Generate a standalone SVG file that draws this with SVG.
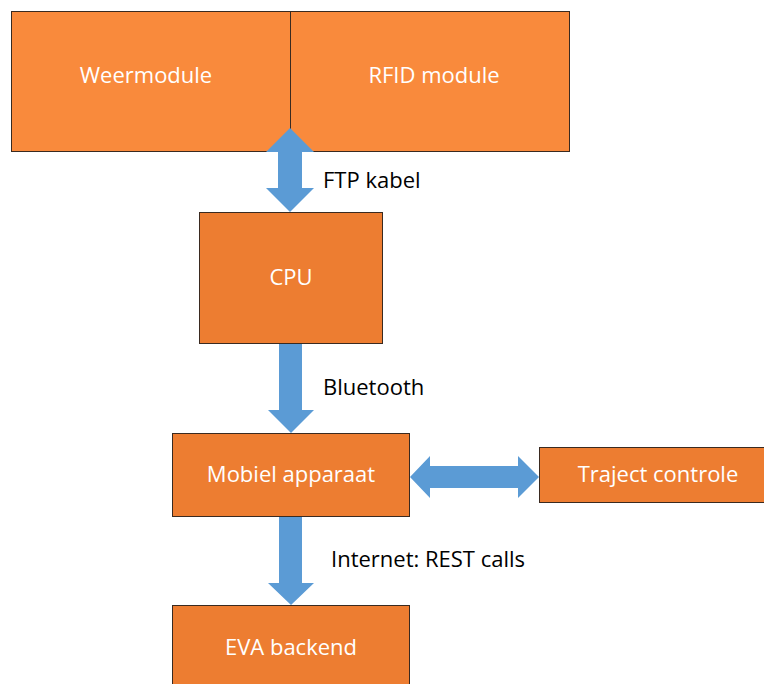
<svg xmlns="http://www.w3.org/2000/svg" width="764" height="684" viewBox="0 0 764 684">
<style>
.top{fill:#F98A3C;stroke:#3a2a20;stroke-width:1}
.box{fill:#ED7D31;stroke:#3a2a20;stroke-width:1}
.arrow{fill:#5B9BD5;stroke:none}
.nt{font-family:"Open Sans","Liberation Sans",sans-serif;font-size:22px;fill:#ffffff;text-anchor:middle;dominant-baseline:central}
.lb{font-family:"Open Sans","Liberation Sans",sans-serif;font-size:22px;fill:#000000}
</style>
<rect width="764" height="684" fill="#ffffff"/>
<g id="weermodule">
<rect class="top" x="11.5" y="11.5" width="279" height="140"/>
<text class="nt" x="146" y="74">Weermodule</text>
</g>
<g id="rfid">
<rect class="top" x="290.5" y="11.5" width="279" height="140"/>
<text class="nt" x="434" y="74">RFID module</text>
</g>
<g id="cpu">
<rect class="box" x="199.5" y="212.5" width="183" height="131"/>
<text class="nt" x="291" y="276">CPU</text>
</g>
<g id="mobiel">
<rect class="box" x="172.5" y="433.5" width="237" height="83"/>
<text class="nt" x="291" y="473">Mobiel apparaat</text>
</g>
<g id="traject">
<rect class="box" x="539.5" y="447.5" width="230" height="55"/>
<text class="nt" x="658" y="473">Traject controle</text>
</g>
<g id="eva">
<rect class="box" x="172.5" y="605.5" width="237" height="90"/>
<text class="nt" x="291" y="646">EVA backend</text>
</g>
<g id="connectors">
<path class="arrow" d="M290,128 L314,152 L302,152 L302,188 L314,188 L290,212 L266,188 L278,188 L278,152 L266,152 Z"/>
<path class="arrow" d="M279,344 L302,344 L302,410 L314,410 L291,433 L268,410 L279,410 Z"/>
<path class="arrow" d="M279,517 L302,517 L302,583 L314,583 L291,605 L268,583 L279,583 Z"/>
<path class="arrow" d="M410,477 L430,456 L430,466 L518,466 L518,456 L539,477 L518,498 L518,488 L430,488 L430,498 Z"/>
<text class="lb" x="323" y="188">FTP kabel</text>
<text class="lb" x="323" y="395">Bluetooth</text>
<text class="lb" x="331" y="567">Internet: REST calls</text>
</g>
</svg>
